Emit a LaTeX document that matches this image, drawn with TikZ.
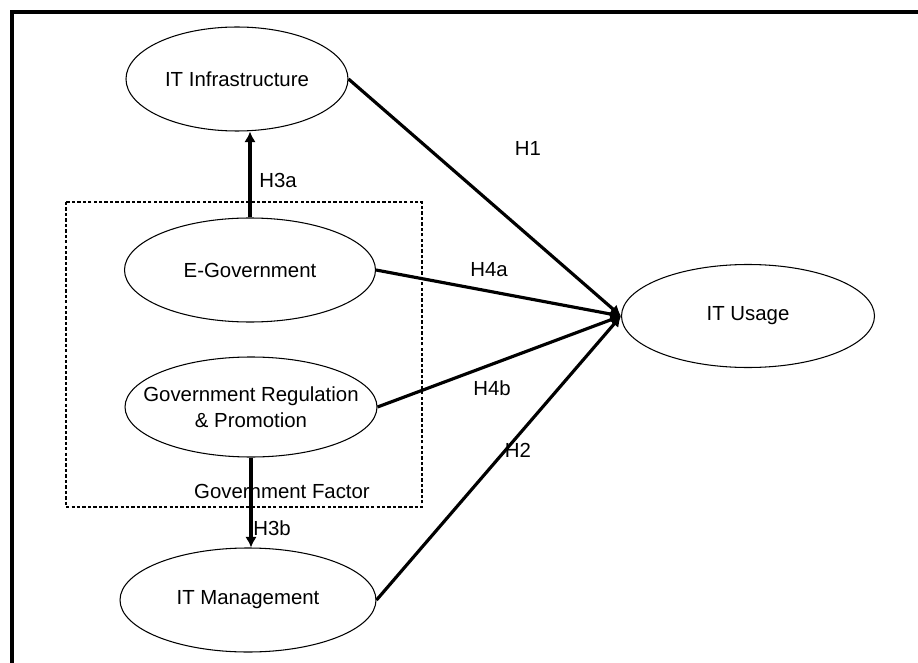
\documentclass[tikz,border=0pt]{standalone}
\usepackage{fontspec}
\setmainfont{Liberation Sans}
\usetikzlibrary{shapes.geometric,arrows.meta}
\begin{document}
\begin{tikzpicture}[
        construct/.style={draw,line width=0.6pt,ellipse,inner sep=0pt,align=center,font=\fontsize{11.6}{15}\selectfont},
        link/.style={line width=1.8pt,-{Latex[length=6pt,width=6.5pt]}},
        hlabel/.style={font=\fontsize{11.6}{15}\selectfont}
    ]
            \useasboundingbox (0,0) rectangle (18.36,13.24);
            \draw[line width=2.3pt] (18.6,13.0) -- (0.24,13.0) -- (0.24,-0.3);

            \draw[line width=1.1pt,dash pattern=on 1.9pt off 1.2pt] (1.32,9.2) rectangle (8.44,3.1);
            \node[hlabel] at (5.64,3.42) (gf) {Government Factor};

            \node[construct,minimum width=4.44cm,minimum height=2.08cm] at (4.74,11.66) (infra) {IT Infrastructure};
            \node[construct,minimum width=5.02cm,minimum height=2.08cm] at (5.0,7.84) (egov) {E-Government};
            \node[construct,inner xsep=-0.5cm,minimum width=5.04cm,minimum height=2.0cm] at (5.02,5.10) (reg) {Government Regulation\\\& Promotion};
            \node[construct,minimum width=5.12cm,minimum height=2.08cm] at (4.96,1.24) (mgmt) {IT Management};
            \node[construct,minimum width=5.06cm,minimum height=2.06cm] at (14.96,6.92) (usage) {IT Usage};

            \draw[link,line width=2.4pt] (egov.north) -- (egov.north |- infra.south);
            \draw[link,line width=2.4pt] (reg.south) -- (reg.south |- mgmt.north);
            \draw[link] (infra.east) -- (usage.west);
            \draw[link] (egov.east) -- (usage.west);
            \draw[link] (reg.east) -- (usage.west);
            \draw[link] (mgmt.east) -- (usage.west);

            \node[hlabel] at (5.56,9.64) (h3a) {H3a};
            \node[hlabel] at (5.44,2.68) (h3b) {H3b};
            \node[hlabel] at (10.56,10.28) (h1) {H1};
            \node[hlabel] at (9.78,7.84) (h4a) {H4a};
            \node[hlabel] at (9.84,5.48) (h4b) {H4b};
            \node[hlabel] at (10.36,4.24) (h2) {H2};
        \end{tikzpicture}
\end{document}
